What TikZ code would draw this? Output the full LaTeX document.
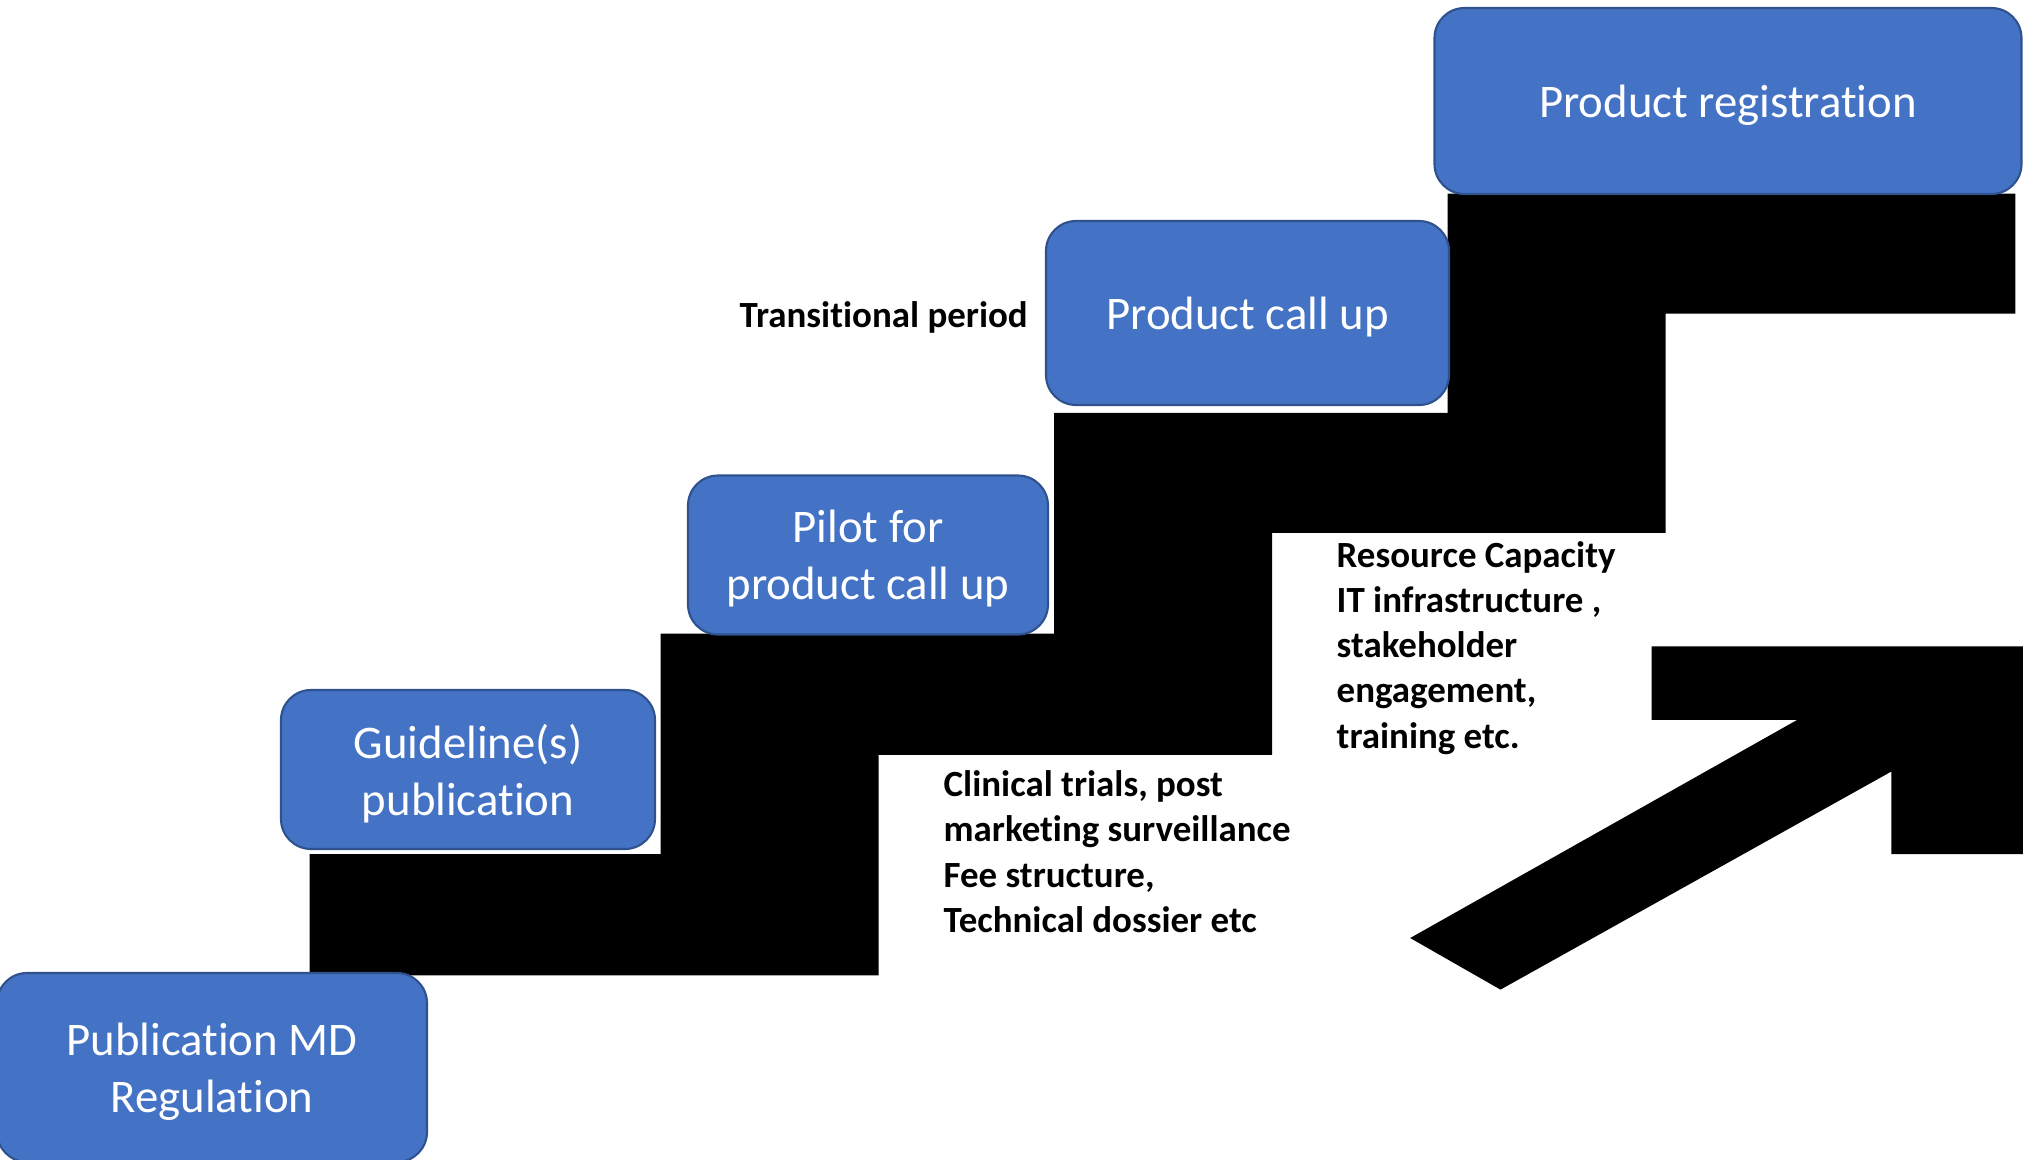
\documentclass[tikz,border=0pt]{standalone}
\usepackage{fontspec}
\setmainfont{Carlito}[Ligatures=NoCommon]
\definecolor{boxblue}{HTML}{4472C4}
\definecolor{boxedge}{HTML}{2F528F}
\begin{document}
\begin{tikzpicture}[x=0.01cm,y=-0.01cm,
  stepbox/.style={draw=boxedge, line width=0.6pt, fill=boxblue, rounded corners=0.3cm,
    text=white, align=center, inner sep=0pt, text depth=0pt,
    font=\fontsize{13.3pt}{16.2pt}\selectfont},
  notetext/.style={anchor=base west, align=left, inner sep=0pt,
    font=\bfseries\fontsize{10.5pt}{12.8pt}\selectfont},
  solidshape/.style={fill=black, draw=none}]
\clip (0,0) rectangle (2023,1160);
\fill[white] (0,0) rectangle (2023,1160);

% staircase
\fill[solidshape] (309.6,854.1) -- (660.6,854.1) -- (660.6,633.5) -- (1054.1,633.5)
  -- (1054.1,412.9) -- (1447.6,412.9) -- (1447.6,193.5) -- (2015.3,193.5)
  -- (2015.3,313.5) -- (1665.6,313.5) -- (1665.6,532.9) -- (1272.1,532.9)
  -- (1272.1,754.8) -- (878.6,754.8) -- (878.6,975.4) -- (309.6,975.4) -- cycle;

% arrow
\fill[solidshape] (1651.5,646.4) -- (2030,646.4) -- (2030,854.1) -- (1891.4,854.1)
  -- (1891.4,771.5) -- (1500.5,989.6) -- (1410.2,938) -- (1797.2,719.9)
  -- (1651.5,719.9) -- cycle;

% boxes
\node[stepbox, minimum width=430*0.01cm, minimum height=189*0.01cm] (pub) at (212,1067.5) {Publication MD\\Regulation};
\node[stepbox, minimum width=374*0.01cm, minimum height=159*0.01cm] (guide) at (468,769.5) {Guideline(s)\\publication};
\node[stepbox, minimum width=360*0.01cm, minimum height=159*0.01cm] (pilot) at (868,555) {Pilot for\\product call up};
\node[stepbox, minimum width=403*0.01cm, minimum height=184*0.01cm] (callup) at (1247.5,313) {Product call up};
\node[stepbox, minimum width=587*0.01cm, minimum height=186*0.01cm] (reg) at (1728,101) {Product registration};

% notes (base anchor = last line baseline)
\node[notetext] (trans) at (739,327) {Transitional period};
\node[notetext] (clin) at (943,932) {Clinical trials, post\\marketing surveillance\\Fee structure,\\Technical dossier etc};
\node[notetext] (res) at (1336,748) {Resource Capacity\\IT infrastructure ,\\stakeholder\\engagement,\\training etc.};
\end{tikzpicture}
\end{document}
